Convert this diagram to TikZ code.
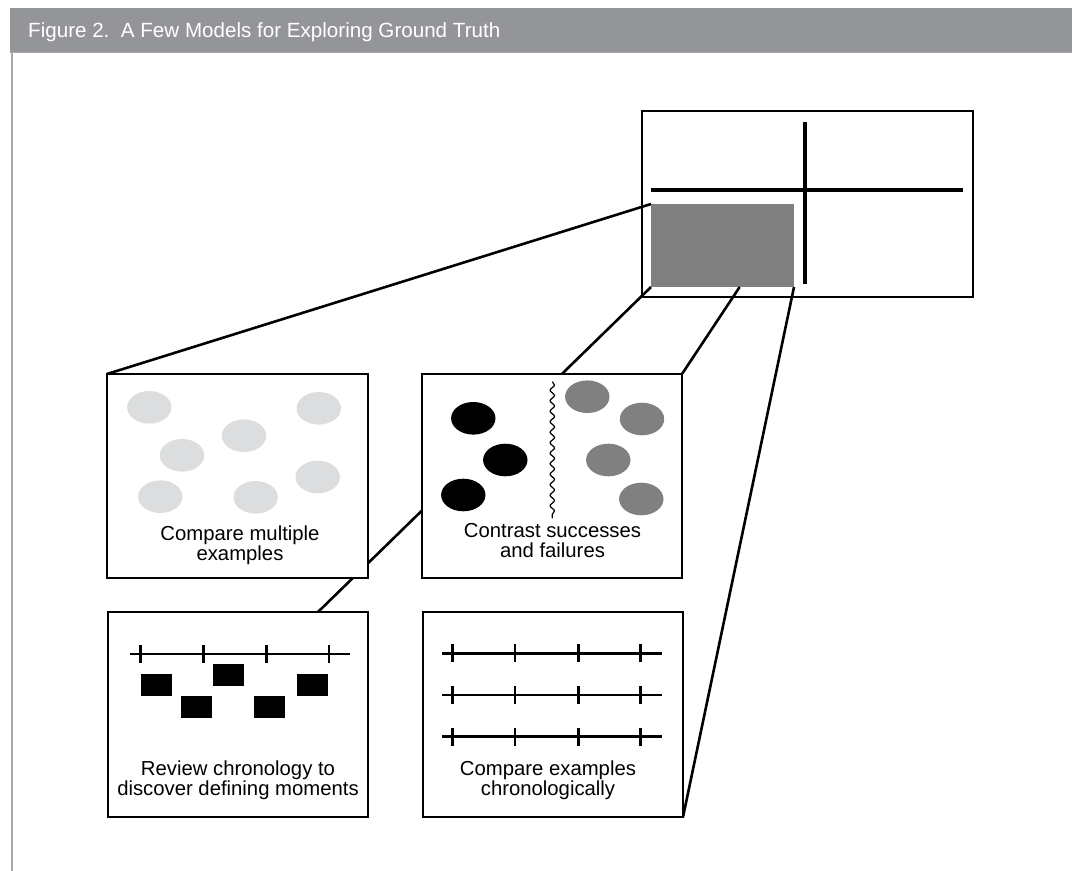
\documentclass[tikz,border=0pt]{standalone}
\usepackage{fontspec}
\setmainfont{Liberation Sans}
\usetikzlibrary{calc,decorations.pathmorphing}

\definecolor{barGray}{HTML}{939598}
\definecolor{ruleGray}{HTML}{A7A9AC}
\definecolor{dotLight}{HTML}{DCDDDE}
\definecolor{midGray}{HTML}{808080}

\tikzset{
  panel/.style={draw=black, line width=2.7pt, fill=white, rectangle,
    inner sep=0pt, outer sep=0pt, minimum width=260pt, minimum height=205pt},
  link/.style={draw=black, line width=2.6pt},
  caption/.style={anchor=base, align=center, inner sep=0pt,
    font=\fontsize{20.3}{20}\selectfont},
  axis/.style={draw=black, line width=2.6pt},
  tick/.style={draw=black, line width=2.6pt},
  lightdot/.style={fill=dotLight},
  darkdot/.style={fill=black},
  greydot/.style={fill=midGray},
  event/.style={fill=black},
}

\begin{document}
\begin{tikzpicture}[x=1pt, y=-1pt]
\useasboundingbox (0,0) rectangle (1072,871);
\fill[white] (0,0) rectangle (1072,871);

% title bar and frame
\fill[barGray] (10,7.5) rectangle (1072,52);
\draw[ruleGray, line width=1pt] (10,52.5) -- (1072,52.5);
\draw[ruleGray, line width=2.2pt] (12,52) -- (12,871);
\node[anchor=base west, inner sep=0pt, text=white,
  font=\fontsize{20.6}{20}\selectfont] (title) at (28,37.5)
  {Figure 2.\ \ A Few Models for Exploring Ground Truth};

% overview grid with highlighted quadrant
\node[draw=black, line width=1.6pt, rectangle, inner sep=0pt, outer sep=0pt,
  minimum width=331pt, minimum height=186pt] (overview) at (807.5,204) {};
\draw[line width=3.5pt] (651,190) -- (963,190);
\draw[line width=3.5pt] (805,122) -- (805,284);
\node[fill=midGray, rectangle, inner sep=0pt, outer sep=0pt,
  minimum width=143pt, minimum height=83pt] (focus) at (722.5,245.5) {};

% panel positions
\coordinate (pMulti) at (237.5,476);
\coordinate (pContrast) at (552,476);
\coordinate (pReview) at (238,714.5);
\coordinate (pChrono) at (553,714.5);

% connectors, drawn first so that the panels cover them
\coordinate (focusMid) at ($(focus.south west)!0.62!(focus.south east)$);
\draw[link] (focus.north west) -- ($(pMulti)+(-130.5,-102)$);
\draw[link] (focus.south west) -- ($(pReview)+(80,-102.5)$);
\draw[link] (focusMid) -- ($(pContrast)+(130,-102)$);
\draw[link] (focus.south east) -- ($(pChrono)+(130,102.5)$);

% panel 1: many similar examples
\node[panel, minimum width=261pt, minimum height=204pt] (multi) at (pMulti) {};
\foreach \cx/\cy in {149.3/407.3, 318.7/408.3, 244/435.7, 182/455.3,
                     317.7/477, 160.3/496.7, 255.7/497.3}
  \fill[lightdot] (\cx,\cy) ellipse [x radius=22.2, y radius=16.3];
\node[caption] (multiText) at (240,560.5) {Compare multiple\\examples};

% panel 2: successes versus failures
\node[panel, minimum height=204pt] (contrast) at (pContrast) {};
\foreach \cx/\cy in {473.3/418.3, 505.3/460, 463.3/495}
  \fill[darkdot] (\cx,\cy) ellipse [x radius=22.2, y radius=16.3];
\foreach \cx/\cy in {587.3/396.7, 642/419, 608.3/460, 641.3/499}
  \fill[greydot] (\cx,\cy) ellipse [x radius=22.2, y radius=16.3];
\draw[line width=1.2pt, decorate,
  decoration={snake, segment length=10.5pt, amplitude=2.2pt}]
  (552.3,381.7) -- (552.3,518.3);
\node[caption] (contrastText) at (552.5,557.5) {Contrast successes\\and failures};

% panel 3: one chronology with events
\node[panel] (review) at (pReview) {};
\draw[axis] (130,654) -- (350,654);
\foreach \tx in {140.7,203.3,266.7,329}
  \draw[tick] (\tx,645) -- (\tx,663.3);
\foreach \ex/\ey in {141/674, 181/696, 213.3/664, 254/696, 297/674}
  \fill[event] (\ex,\ey) rectangle ++(30.8,21.7);
\node[caption] (reviewText) at (238,795.5)
  {Review chronology to\\discover defining moments};

% panel 4: parallel chronologies
\node[panel] (chrono) at (pChrono) {};
\foreach \ly in {653.3,695,736.7} {
  \draw[axis] (442.3,\ly) -- (661.7,\ly);
  \foreach \tx in {452.3,515,578.3,640.7}
    \draw[tick] (\tx,\ly-9) -- (\tx,\ly+9);
}
\node[caption] (chronoText) at (548,795.5)
  {Compare examples\\chronologically};
\end{tikzpicture}
\end{document}
